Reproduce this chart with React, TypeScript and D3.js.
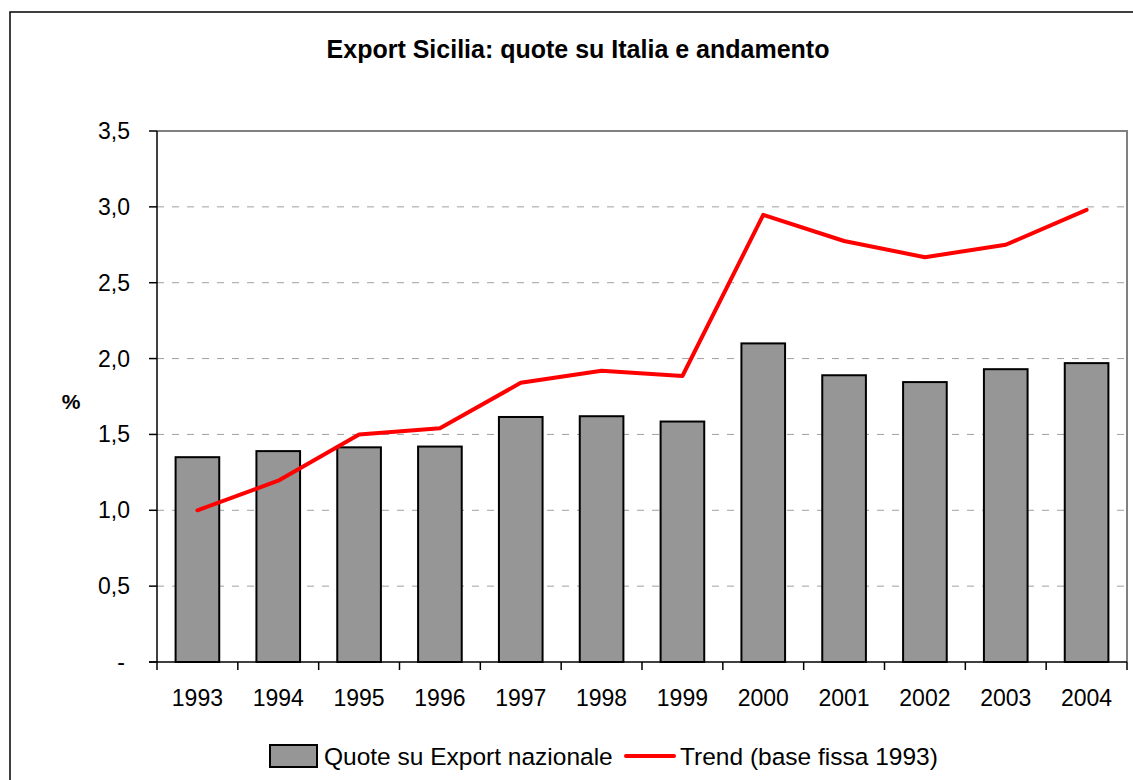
import { useEffect, useRef } from 'react'
import * as d3 from 'd3'

const years = ['1993', '1994', '1995', '1996', '1997', '1998', '1999', '2000', '2001', '2002', '2003', '2004']
const quote = [1.35, 1.39, 1.415, 1.42, 1.615, 1.62, 1.585, 2.1, 1.89, 1.845, 1.93, 1.97]
const trend = [1.0, 1.195, 1.5, 1.54, 1.84, 1.92, 1.885, 2.947, 2.775, 2.668, 2.75, 2.98]
const yTicks = [0, 0.5, 1, 1.5, 2, 2.5, 3, 3.5]

const fmt = (v: number) => (v === 0 ? '-' : v.toFixed(1).replace('.', ','))

const App = () => {
  const svgRef = useRef(null)

  useEffect(() => {
    const width = 1133
    const height = 780
    const left = 157
    const right = 1127
    const top = 131
    const bottom = 662
    const font = 'Liberation Sans, Arial, sans-serif'

    const svg = d3.select(svgRef.current).attr('width', width).attr('height', height)
    svg.selectAll('*').remove()

    // outer frame (cut off on right and bottom)
    svg
      .append('rect')
      .attr('x', 10)
      .attr('y', 12)
      .attr('width', 1200)
      .attr('height', 900)
      .attr('fill', 'white')
      .attr('stroke', 'black')
      .attr('stroke-width', 1.5)

    const x = d3.scaleBand().domain(years).range([left, right]).paddingInner(0.46).paddingOuter(0.23)
    const band = d3.scaleBand().domain(years).range([left, right])
    const y = d3.scaleLinear().domain([0, 3.5]).range([bottom, top])

    // title
    svg
      .append('text')
      .attr('x', 578)
      .attr('y', 58)
      .attr('text-anchor', 'middle')
      .attr('font-family', font)
      .attr('font-weight', 'bold')
      .attr('font-size', 25)
      .text('Export Sicilia: quote su Italia e andamento')

    // gridlines
    svg
      .append('g')
      .selectAll('line')
      .data(yTicks.filter((t) => t > 0 && t < 3.5))
      .join('line')
      .attr('x1', left)
      .attr('x2', right)
      .attr('y1', (d) => y(d))
      .attr('y2', (d) => y(d))
      .attr('stroke', '#a0a0a0')
      .attr('stroke-width', 1)
      .attr('stroke-dasharray', '7,8')

    // top and right border of plot
    svg
      .append('path')
      .attr('d', `M${left},${top}H${right}V${bottom}`)
      .attr('fill', 'none')
      .attr('stroke', '#808080')
      .attr('stroke-width', 2)

    // bars
    svg
      .append('g')
      .selectAll('rect')
      .data(quote)
      .join('rect')
      .attr('x', (_, i) => x(years[i]) as number)
      .attr('y', (d) => y(d))
      .attr('width', x.bandwidth())
      .attr('height', (d) => bottom - y(d))
      .attr('fill', '#969696')
      .attr('stroke', 'black')
      .attr('stroke-width', 2)

    // y axis
    const yAxis = svg.append('g')
    yAxis
      .append('line')
      .attr('x1', left)
      .attr('x2', left)
      .attr('y1', top)
      .attr('y2', bottom)
      .attr('stroke', 'black')
      .attr('stroke-width', 1.5)
    yAxis
      .selectAll('line.tick')
      .data(yTicks)
      .join('line')
      .attr('class', 'tick')
      .attr('x1', left - 8)
      .attr('x2', left)
      .attr('y1', (d) => y(d))
      .attr('y2', (d) => y(d))
      .attr('stroke', 'black')
      .attr('stroke-width', 1.5)
    yAxis
      .selectAll('text')
      .data(yTicks)
      .join('text')
      .attr('x', (d) => (d === 0 ? 125 : 130))
      .attr('y', (d) => y(d))
      .attr('dy', '0.35em')
      .attr('text-anchor', 'end')
      .attr('font-family', font)
      .attr('font-size', 23)
      .text((d) => fmt(d))

    svg
      .append('text')
      .attr('x', 71)
      .attr('y', 402)
      .attr('dy', '0.35em')
      .attr('text-anchor', 'middle')
      .attr('font-family', font)
      .attr('font-weight', 'bold')
      .attr('font-size', 21)
      .text('%')

    // x axis
    const xAxis = svg.append('g')
    xAxis
      .append('line')
      .attr('x1', left - 8)
      .attr('x2', right)
      .attr('y1', bottom)
      .attr('y2', bottom)
      .attr('stroke', 'black')
      .attr('stroke-width', 1.5)
    xAxis
      .selectAll('line.tick')
      .data([...years.map((d) => band(d) as number), right])
      .join('line')
      .attr('class', 'tick')
      .attr('x1', (d) => d)
      .attr('x2', (d) => d)
      .attr('y1', bottom)
      .attr('y2', bottom + 8)
      .attr('stroke', 'black')
      .attr('stroke-width', 1.5)
    xAxis
      .selectAll('text')
      .data(years)
      .join('text')
      .attr('x', (d) => (band(d) as number) + band.bandwidth() / 2)
      .attr('y', 706)
      .attr('text-anchor', 'middle')
      .attr('font-family', font)
      .attr('font-size', 23)
      .text((d) => d)

    // trend line
    const line = d3
      .line<number>()
      .x((_, i) => (x(years[i]) as number) + x.bandwidth() / 2)
      .y((d) => y(d))
    svg
      .append('path')
      .attr('d', line(trend) as string)
      .attr('fill', 'none')
      .attr('stroke', '#ff0000')
      .attr('stroke-width', 4)
      .attr('stroke-linecap', 'round')
      .attr('stroke-linejoin', 'round')

    // legend
    const lg = svg.append('g')
    lg.append('rect')
      .attr('x', 270)
      .attr('y', 745)
      .attr('width', 47)
      .attr('height', 22)
      .attr('fill', '#969696')
      .attr('stroke', 'black')
      .attr('stroke-width', 2)
    lg.append('text')
      .attr('x', 324)
      .attr('y', 765)
      .attr('font-family', font)
      .attr('font-size', 24.5)
      .text('Quote su Export nazionale')
    lg.append('line')
      .attr('x1', 626)
      .attr('x2', 674)
      .attr('y1', 756)
      .attr('y2', 756)
      .attr('stroke', '#ff0000')
      .attr('stroke-width', 4)
      .attr('stroke-linecap', 'round')
    lg.append('text')
      .attr('x', 680)
      .attr('y', 765)
      .attr('font-family', font)
      .attr('font-size', 24.5)
      .text('Trend (base fissa 1993)')
  }, [])

  return (
    <svg
      ref={svgRef}
      style={{ position: 'absolute', left: 0, top: 0, background: 'white' }}
    ></svg>
  )
}

export default App
